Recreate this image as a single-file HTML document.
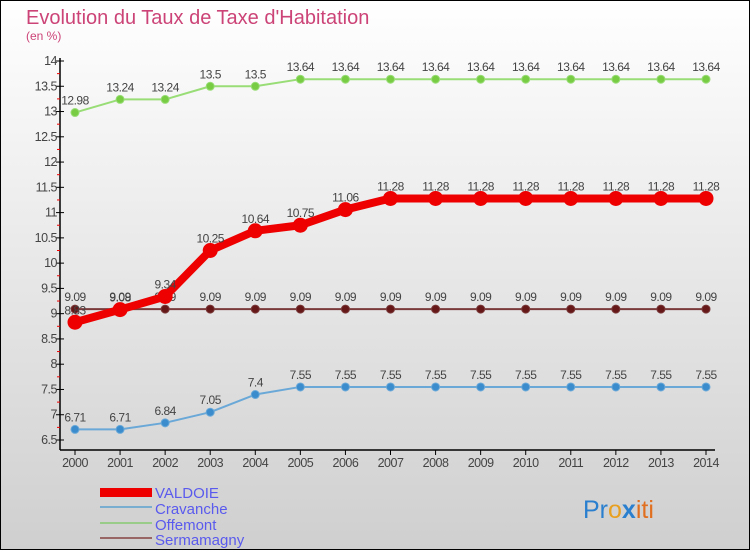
<!DOCTYPE html>
<html><head><meta charset="utf-8"><style>
body{margin:0}
#c{position:relative;width:750px;height:550px;overflow:hidden;font-family:"Liberation Sans",sans-serif}
svg text{font-family:"Liberation Sans",sans-serif}
</style></head><body>
<div id="c">
<svg id="s" width="750" height="550" xmlns="http://www.w3.org/2000/svg">
<defs><linearGradient id="bg" x1="0" y1="0" x2="0" y2="1"><stop offset="0" stop-color="#ffffff"/><stop offset="1" stop-color="#cfcfcf"/></linearGradient></defs>
<rect x="0.5" y="0.5" width="749" height="549" fill="url(#bg)" stroke="#000"/>
<text x="26" y="24" font-size="20" fill="#cc4477">Evolution du Taux de Taxe d'Habitation</text>
<text x="26" y="40" font-size="12" fill="#cc4477">(en %)</text>
<g id="g"></g>
<g>
<rect x="100" y="488" width="52" height="9" fill="#ee0000"/>
<text x="155" y="498" font-size="15" fill="#5a5aee">VALDOIE</text>
<rect x="100" y="506" width="52" height="2" fill="#7aaed0"/>
<text x="155" y="514" font-size="15" fill="#5a5aee">Cravanche</text>
<rect x="100" y="522" width="52" height="2" fill="#99cc88"/>
<text x="155" y="530" font-size="15" fill="#5a5aee">Offemont</text>
<rect x="100" y="537" width="52" height="2" fill="#996666"/>
<text x="155" y="545" font-size="15" fill="#5a5aee">Sermamagny</text>
</g>
<text x="583" y="518" font-size="25"><tspan fill="#2a7fcf">Pr</tspan><tspan fill="#e8a020">o</tspan><tspan fill="#2a7fcf" font-weight="bold">x</tspan><tspan fill="#e07020">iti</tspan></text>
</svg>
</div>
<script>
const years=[2000,2001,2002,2003,2004,2005,2006,2007,2008,2009,2010,2011,2012,2013,2014];
const offemont=[12.98,13.24,13.24,13.5,13.5,13.64,13.64,13.64,13.64,13.64,13.64,13.64,13.64,13.64,13.64];
const valdoie=[8.83,9.08,9.34,10.25,10.64,10.75,11.06,11.28,11.28,11.28,11.28,11.28,11.28,11.28,11.28];
const sermamagny=[9.09,9.09,9.09,9.09,9.09,9.09,9.09,9.09,9.09,9.09,9.09,9.09,9.09,9.09,9.09];
const cravanche=[6.71,6.71,6.84,7.05,7.4,7.55,7.55,7.55,7.55,7.55,7.55,7.55,7.55,7.55,7.55];
const yTicks=[6.5,7,7.5,8,8.5,9,9.5,10,10.5,11,11.5,12,12.5,13,13.5,14];
const NS="http://www.w3.org/2000/svg";
const g=document.getElementById('g');
const x=i=>75+i*(706-75)/(years.length-1);
const y=v=>440-(v-6.5)*(440-61)/7.5;
function mk(t,a){const e=document.createElementNS(NS,t);for(const k in a)e.setAttribute(k,a[k]);g.appendChild(e);return e;}
let e=mk('line',{x1:60,y1:58,x2:60,y2:450,stroke:'#000','stroke-width':1.5});


e=mk('line',{x1:60,y1:450,x2:715,y2:450,stroke:'#000','stroke-width':1.5});


for(let v=6.5;v<=14.001;v+=0.25){
  const isMaj=Math.abs(v*2-Math.round(v*2))<1e-6;
  e=mk('line',{x1:isMaj?56:57,y1:y(v),x2:isMaj?64:60,y2:y(v),stroke:isMaj?'#000':'#e00','stroke-width':1});
  
  
}
yTicks.forEach(v=>{
  e=mk('text',{x:57,y:y(v)+4,'font-size':12.5,fill:'#444','text-anchor':'end','letter-spacing':'-0.5'});
  e.textContent=String(v);
  
  
});
years.forEach((yr,i)=>{
  e=mk('line',{x1:x(i),y1:450,x2:x(i),y2:455,stroke:'#000'});
  
  
  e=mk('text',{x:x(i),y:467,'font-size':12.5,fill:'#444','text-anchor':'middle','letter-spacing':'-0.5'});
  e.textContent=String(yr);
  
  
});
function series(vals,name,color,dot,w,r){
  const pts=vals.map((v,i)=>x(i)+','+y(v)).join(' ');
  let p=mk('polyline',{points:pts,fill:'none',stroke:color,'stroke-width':w,'stroke-linejoin':'round','stroke-linecap':'round'});
  
  
  vals.forEach((v,i)=>{
    let c=mk('circle',{cx:x(i),cy:y(v),r:r,fill:dot,stroke:color,'stroke-width':1});
    
    
    let t=mk('text',{x:x(i),y:y(v)-8,'font-size':12,fill:'#444','text-anchor':'middle','letter-spacing':'-0.5'});
    t.textContent=String(v);
    
    
  });
}
series(offemont,'offemont','#99dd77','#77cc44',2,4);
series(cravanche,'cravanche','#6aa8d8','#3a8ccc',2,4);
series(sermamagny,'sermamagny','#7a3a3a','#661818',2,4);
series(valdoie,'valdoie','#ee0000','#ee0000',8,7);
</script>
</body></html>
